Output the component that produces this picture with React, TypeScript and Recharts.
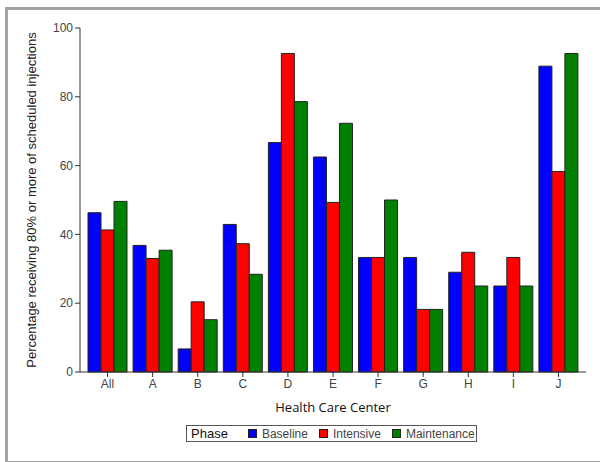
import { Bar, BarChart, XAxis, YAxis } from "recharts"

const centers = ["All", "A", "B", "C", "D", "E", "F", "G", "H", "I", "J"]
const baseline = [46.3, 36.8, 6.7, 42.9, 66.7, 62.5, 33.3, 33.3, 29.0, 25.0, 88.9]
const intensive = [41.3, 33.0, 20.4, 37.3, 92.6, 49.3, 33.3, 18.2, 34.8, 33.3, 58.3]
const maintenance = [49.6, 35.4, 15.2, 28.4, 78.6, 72.3, 50.0, 18.2, 25.0, 25.0, 92.6]
const yTicks = [0, 20, 40, 60, 80, 100]

const series = [
    { key: "baseline", name: "Baseline", color: "#0000ff" },
    { key: "intensive", name: "Intensive", color: "#ff0000" },
    { key: "maintenance", name: "Maintenance", color: "#008000" },
]

const data = centers.map((c, i) => ({
    center: c,
    baseline: baseline[i],
    intensive: intensive[i],
    maintenance: maintenance[i],
}))

const font = "'Liberation Sans', Arial, sans-serif"

export default function App() {
    return (
        <div style={{ position: "absolute", left: 0, top: 0, width: 600, height: 462, overflow: "hidden", background: "#fff", fontFamily: font }}>
            <div
                style={{
                    position: "absolute",
                    left: 5,
                    top: 7,
                    width: 620,
                    height: 451,
                    border: "3px solid #a3a3a3",
                }}
            />
            <div style={{ position: "absolute", left: 0, top: 0 }}>
                <BarChart
                    width={600}
                    height={462}
                    data={data}
                    margin={{ top: 28, right: 14, left: 0, bottom: 0 }}
                    barCategoryGap={3}
                    barGap={0}
                >
                    <XAxis
                        dataKey="center"
                        height={90}
                        padding={{ left: 5, right: 5 }}
                        tickSize={5}
                        axisLine={{ stroke: "#333" }}
                        tickLine={{ stroke: "#333" }}
                        tick={{ fontSize: 12, fill: "#444", fontFamily: font }}
                        interval={0}
                        label={{
                            value: "Health Care Center",
                            position: "insideTop",
                            offset: 31,
                            fontSize: 13,
                            fill: "#111",
                            fontFamily: "'Open Sans', sans-serif",
                        }}
                    />
                    <XAxis xAxisId="top" dataKey="center" orientation="top" height={0} tick={false} tickLine={false} axisLine={{ stroke: "#555" }} />
                    <YAxis
                        width={80}
                        domain={[0, 100]}
                        ticks={yTicks}
                        tickSize={5}
                        axisLine={{ stroke: "#333" }}
                        tickLine={{ stroke: "#333" }}
                        tick={{ fontSize: 12, fill: "#444", fontFamily: font }}
                        label={() => (
                            <text
                                transform="translate(31,200) rotate(-90)"
                                textAnchor="middle"
                                dominantBaseline="central"
                                fontSize={13}
                                fill="#222"
                                fontFamily={font}
                            >
                                Percentage receiving 80% or more of scheduled injections
                            </text>
                        )}
                    />
                    <YAxis yAxisId="right" orientation="right" width={0} domain={[0, 100]} tick={false} tickLine={false} axisLine={{ stroke: "#c8c8c8" }} />
                    {series.map((s) => (
                        <Bar
                            key={s.key}
                            dataKey={s.key}
                            name={s.name}
                            fill={s.color}
                            stroke="#222"
                            strokeWidth={1}
                            isAnimationActive={false}
                        />
                    ))}
                </BarChart>
            </div>
            <div
                style={{
                    position: "absolute",
                    left: 186,
                    top: 425,
                    width: 289,
                    height: 15,
                    border: "1px solid #555",
                    display: "flex",
                    alignItems: "center",
                    fontSize: 12,
                    color: "#444",
                }}
            >
                <span style={{ fontSize: 13, color: "#111", marginLeft: 4, marginRight: 20 }}>Phase</span>
                {series.map((s) => (
                    <span key={s.key} style={{ display: "flex", alignItems: "center", marginRight: 11 }}>
                        <span style={{ width: 7, height: 7, background: s.color, border: "1px solid #222", marginRight: 5 }} />
                        {s.name}
                    </span>
                ))}
            </div>
        </div>
    )
}
